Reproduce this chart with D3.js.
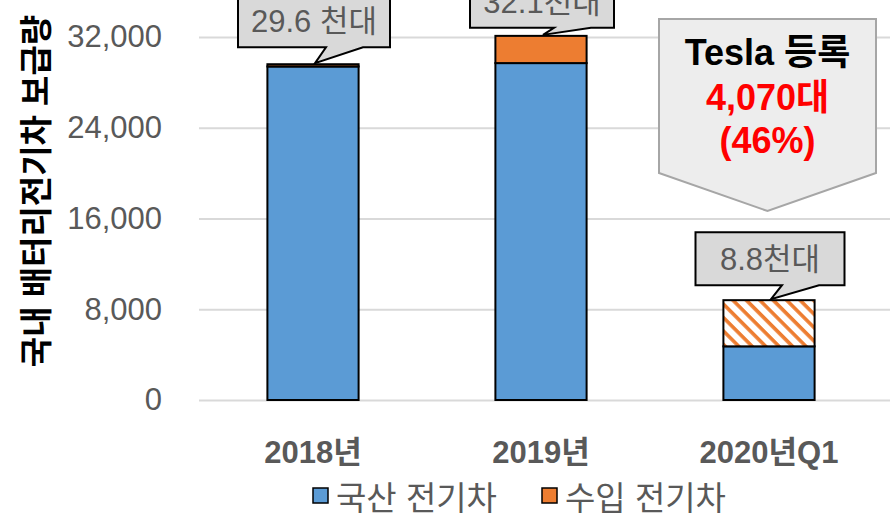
<!DOCTYPE html>
<html>
<head>
<meta charset="utf-8">
<script src="https://cdn.jsdelivr.net/npm/d3@7"></script>
<style>
  body { margin: 0; background: #fff; }
  svg { display: block; font-family: "Liberation Sans", Arial, "Noto Sans CJK KR", sans-serif; }
  .grid line { stroke: #d9d9d9; stroke-width: 2; }
  .grid path { display: none; }
  .grid text { fill: #595959; font-size: 31px; }
</style>
</head>
<body>
<div id="chart"></div>
<script>
// data
var categories = ["2018년", "2019년", "2020년Q1"];
var domestic = [29400, 29700, 4730];
var imported = [200, 2400, 4070];
var totalLabels = ["29.6 천대", "32.1천대", "8.8천대"];
var yTicks = [0, 8000, 16000, 24000, 32000];
var seriesNames = ["국산 전기차", "수입 전기차"];
var teslaLines = ["Tesla 등록", "4,070대", "(46%)"];

var width = 890, height = 516;

var svg = d3.select("#chart")
  .append("svg")
    .attr("width", width)
    .attr("height", height);

var defs = svg.append("defs");
var pat = defs.append("pattern")
    .attr("id", "hatch")
    .attr("patternUnits", "userSpaceOnUse")
    .attr("width", 9.5)
    .attr("height", 9.5)
    .attr("patternTransform", "rotate(-45)");
pat.append("rect").attr("width", 9.5).attr("height", 9.5).attr("fill", "#fff");
pat.append("line")
    .attr("x1", 2).attr("x2", 2)
    .attr("y1", 0).attr("y2", 9.5)
    .attr("stroke", "#ed7d31")
    .attr("stroke-width", 3.6);

// scales
var x = d3.scaleBand()
  .domain(categories)
  .range([199, 883])
  .paddingInner(0.6)
  .paddingOuter(0.3);

var y = d3.scaleLinear()
  .domain([0, 36000])
  .range([400, 400 - 36000 * 363 / 32000]);

// grid + y axis labels
svg.append("g")
  .attr("class", "grid")
  .attr("transform", "translate(199,0)")
  .call(d3.axisLeft(y)
    .tickValues(yTicks)
    .tickSize(-(width - 199))
    .tickPadding(37)
    .tickFormat(d3.format(",")));

// y axis title
svg.append("text")
  .attr("transform", "translate(36,191) rotate(-90)")
  .attr("text-anchor", "middle")
  .attr("dominant-baseline", "central")
  .style("font-size", "33px")
  .style("font-weight", "bold")
  .attr("fill", "#000")
  .text("국내 배터리전기차 보급량");

// bars
var rows = categories.map((c, i) => ({ cat: c, dom: domestic[i], imp: imported[i], i: i }));

svg.append("g")
  .selectAll("rect")
  .data(rows)
  .enter()
    .append("rect")
    .attr("x", d => x(d.cat))
    .attr("y", d => y(d.dom))
    .attr("width", x.bandwidth())
    .attr("height", d => y(0) - y(d.dom))
    .attr("fill", "#5b9bd5")
    .attr("stroke", "#000")
    .attr("stroke-width", 2);

svg.append("g")
  .selectAll("rect")
  .data(rows)
  .enter()
    .append("rect")
    .attr("x", d => x(d.cat))
    .attr("y", d => y(d.dom + d.imp))
    .attr("width", x.bandwidth())
    .attr("height", d => y(d.dom) - y(d.dom + d.imp))
    .attr("fill", d => d.i === 2 ? "url(#hatch)" : "#ed7d31")
    .attr("stroke", "#000")
    .attr("stroke-width", 2);

// x labels
svg.append("g")
  .selectAll("text")
  .data(categories)
  .enter()
    .append("text")
    .attr("x", d => x(d) + x.bandwidth() / 2)
    .attr("y", 463)
    .attr("text-anchor", "middle")
    .style("font-size", "31px")
    .style("font-weight", "bold")
    .attr("fill", "#595959")
    .text(d => d);

// total callouts
var boxW = [152, 144, 149];
var boxGap = [16, 7, 14];
var boxH = 53;

rows.forEach(function (d, i) {
  var cx = x(d.cat) + x.bandwidth() / 2;
  var tipX = cx + 2, tipY = y(d.dom + d.imp) - 1;
  var bottom = tipY - boxGap[i], top = bottom - boxH;
  var left = cx + 1 - boxW[i] / 2, right = cx + 1 + boxW[i] / 2;
  var p = d3.path();
  p.moveTo(left, top);
  p.lineTo(right, top);
  p.lineTo(right, bottom);
  p.lineTo(tipX + 48, bottom);
  p.lineTo(tipX, tipY);
  p.lineTo(tipX + 11, bottom);
  p.lineTo(left, bottom);
  p.closePath();
  svg.append("path")
    .attr("d", p.toString())
    .attr("fill", "#d9d9d9")
    .attr("stroke", "#000")
    .attr("stroke-width", 2);
  svg.append("text")
    .attr("x", cx + 1)
    .attr("y", bottom - 15)
    .attr("text-anchor", "middle")
    .style("font-size", "31px")
    .attr("fill", "#595959")
    .text(totalLabels[i]);
});

// Tesla arrow box
var tcx = x(categories[2]) + x.bandwidth() / 2 - 1.5;
var tp = d3.path();
tp.moveTo(tcx - 108.5, 19);
tp.lineTo(tcx + 108.5, 19);
tp.lineTo(tcx + 108.5, 173);
tp.lineTo(tcx, 211);
tp.lineTo(tcx - 108.5, 173);
tp.closePath();
svg.append("path")
  .attr("d", tp.toString())
  .attr("fill", "#ededed")
  .attr("stroke", "#a6a6a6")
  .attr("stroke-width", 2);

svg.append("g")
  .selectAll("text")
  .data(teslaLines)
  .enter()
    .append("text")
    .attr("x", tcx)
    .attr("y", (d, i) => [65, 110, 153][i])
    .attr("text-anchor", "middle")
    .style("font-size", "36px")
    .style("font-weight", "bold")
    .attr("fill", (d, i) => i === 0 ? "#000" : "#ff0000")
    .text(d => d);

// legend
var legColors = ["#5b9bd5", "#ed7d31"];
var legX = [313, 542];
seriesNames.forEach(function (name, i) {
  svg.append("rect")
    .attr("x", legX[i])
    .attr("y", 488)
    .attr("width", 15)
    .attr("height", 15)
    .attr("fill", legColors[i])
    .attr("stroke", "#000")
    .attr("stroke-width", 1.5);
  svg.append("text")
    .attr("x", legX[i] + 23)
    .attr("y", 510)
    .style("font-size", "33px")
    .attr("fill", "#595959")
    .text(name);
});
</script>
</body>
</html>
